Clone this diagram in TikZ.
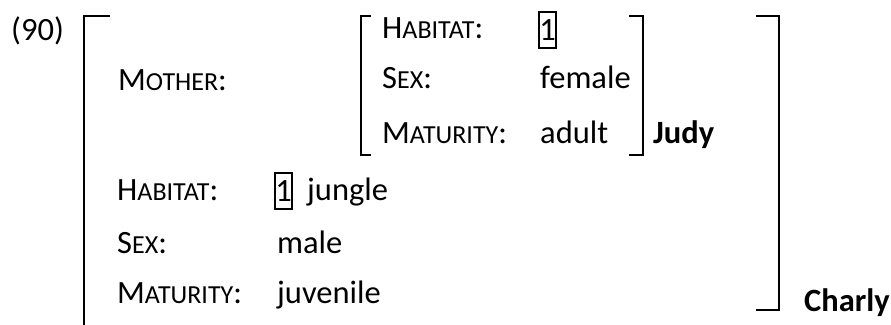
\documentclass[tikz,border=0pt]{standalone}
\usepackage{fontspec}
\setmainfont{Carlito}

% feature names in small capitals: first letter full size, rest smaller
\newcommand{\feat}[2]{#1{\fontsize{26}{30}\selectfont #2}:}

\begin{document}
\begin{tikzpicture}[x=1pt,y=-1pt,
    txt/.style={anchor=base west, inner sep=0pt, font=\fontsize{32.5}{38}\selectfont},
    tag/.style={txt, font=\fontsize{32.5}{38}\selectfont\bfseries},
    idx/.style={draw, line width=1.5pt, inner sep=0pt, minimum width=17pt,
                minimum height=36pt, font=\fontsize{32.5}{38}\selectfont},
    brk/.style={line width=2pt}]
    \useasboundingbox (0,0) rectangle (891,324);

    \node[txt] (num) at (11,40) {(90)};

    % outer matrix
    \draw[brk] (110,16) -- (84,16) -- (84,326);
    \draw[brk] (756,16) -- (779,16) -- (779,310) -- (756,310);
    \node[txt] (mother) at (118,90) {\feat{M}{OTHER}};
    \node[txt] (hab) at (117,200) {\feat{H}{ABITAT}};
    \node[txt] (sex) at (117,253) {\feat{S}{EX}};
    \node[txt] (mat) at (117,303) {\feat{M}{ATURITY}};
    \node[idx] (tagB) at (283.5,191) {1};
    \node[txt] (jungle) at (307,200) {jungle};
    \node[txt] (male) at (277,253) {male};
    \node[txt] (juv) at (277,303) {juvenile};
    \node[tag] (charly) at (804,311) {Charly};

    % inner matrix (value of MOTHER)
    \draw[brk] (371,16) -- (361,16) -- (361,155) -- (371,155);
    \draw[brk] (629,16) -- (643,16) -- (643,155) -- (629,155);
    \node[txt] (habM) at (382,38) {\feat{H}{ABITAT}};
    \node[txt] (sexM) at (382,88) {\feat{S}{EX}};
    \node[txt] (matM) at (382,143) {\feat{M}{ATURITY}};
    \node[idx] (tagA) at (547.5,30) {1};
    \node[txt] (fem) at (540,88) {female};
    \node[txt] (adult) at (540,143) {adult};
    \node[tag] (judy) at (653,143) {Judy};
\end{tikzpicture}
\end{document}
